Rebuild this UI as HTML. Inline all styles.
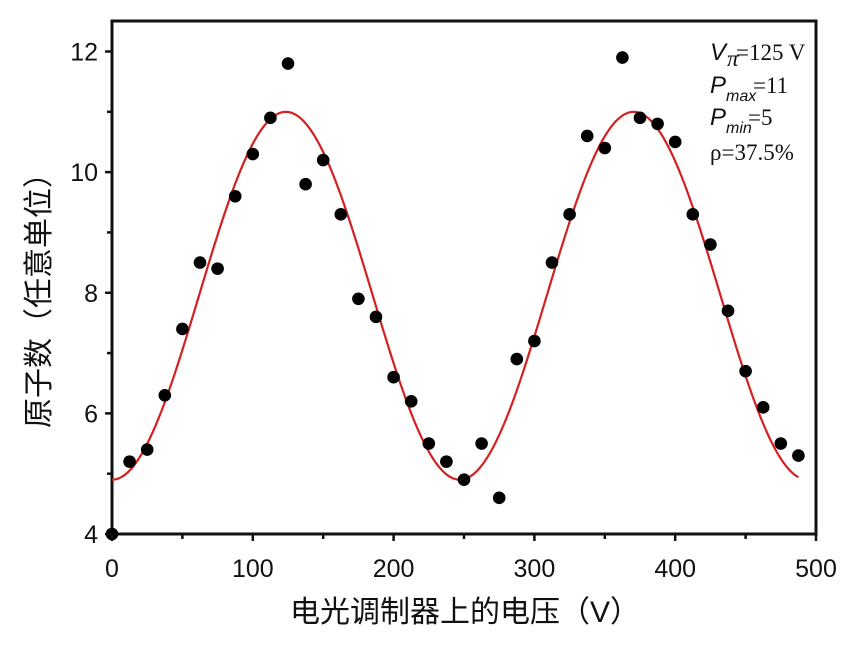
<!DOCTYPE html>
<html><head><meta charset="utf-8"><style>
html,body{margin:0;padding:0;background:#fff;}
svg{display:block;}
.tick{font-family:"Liberation Sans",sans-serif;font-size:25px;fill:#111;}
.cjk{font-family:"Liberation Sans","Noto Sans CJK SC",sans-serif;font-size:30px;fill:#111;}
.ann{font-family:"Liberation Serif",serif;font-size:23px;fill:#111;}
.anni{font-family:"Liberation Sans",sans-serif;font-style:italic;fill:#111;}
</style></head><body>
<svg id="chart" width="866" height="651" viewBox="0 0 866 651" xmlns="http://www.w3.org/2000/svg">
<rect x="112" y="21" width="704" height="513" fill="none" stroke="#111" stroke-width="3"/>
<g id="curve-layer"></g>
<g id="points-layer"></g>
<g id="axes-layer"></g>
<g>
<text x="710" y="60" class="anni" font-size="24">V</text><text x="727" y="66" class="ann" font-size="13" font-style="italic">π</text><text x="736" y="60" class="ann">=125 V</text>
<text x="710" y="93" class="anni" font-size="24">P</text><text x="726" y="101" class="anni" font-size="16">max</text><text x="753" y="93" class="ann">=11</text>
<text x="710" y="125" class="anni" font-size="24">P</text><text x="726" y="133" class="anni" font-size="16">min</text><text x="748" y="125" class="ann">=5</text>
<text x="710" y="160" class="ann">ρ=37.5%</text>
</g>
<text class="cjk" x="465" y="622" text-anchor="middle">电光调制器上的电压（V）</text>
<text class="cjk" transform="translate(49,293) rotate(-90)" text-anchor="middle">原子数（任意单位）</text>
</svg>
<script>
const xValues=[0,12.5,25,37.5,50,62.5,75,87.5,100,112.5,125,137.5,150,162.5,175,187.5,200,212.5,225,237.5,250,262.5,275,287.5,300,312.5,325,337.5,350,362.5,375,387.5,400,412.5,425,437.5,450,462.5,475,487.5];
const yValues=[4,5.2,5.4,6.3,7.4,8.5,8.4,9.6,10.3,10.9,11.8,9.8,10.2,9.3,7.9,7.6,6.6,6.2,5.5,5.2,4.9,5.5,4.6,6.9,7.2,8.5,9.3,10.6,10.4,11.9,10.9,10.8,10.5,9.3,8.8,7.7,6.7,6.1,5.5,5.3];
const fitOffset=[7.95];
const fitAmplitude=[3.05];
const fitPeriod=[247];
const fitRange=[0,487.5];
const xTicks=[0,100,200,300,400,500];
const yTicks=[4,6,8,10,12];
const NS="http://www.w3.org/2000/svg";
function sx(v){return 112+(v-0)*(816-112)/500;}
function sy(v){return 534-(v-4)*(534-51.5)/8;}
const curveLayer=document.getElementById('curve-layer');
let d='';
for(let i=0;i<=300;i++){const x=fitRange[0]+(fitRange[1]-fitRange[0])*i/300;const y=fitOffset[0]-fitAmplitude[0]*Math.cos(2*Math.PI*x/fitPeriod[0]);d+=(i?'L':'M')+sx(x).toFixed(2)+','+sy(y).toFixed(2);}
const path=document.createElementNS(NS,'path');


path.setAttribute('d',d);path.setAttribute('fill','none');path.setAttribute('stroke','#d42020');path.setAttribute('stroke-width','2.2');
curveLayer.appendChild(path);
const pl=document.getElementById('points-layer');
xValues.forEach((x,i)=>{const c=document.createElementNS(NS,'circle');


c.setAttribute('cx',sx(x));c.setAttribute('cy',sy(yValues[i]));c.setAttribute('r','6.3');c.setAttribute('fill','#000');pl.appendChild(c);});
const ax=document.getElementById('axes-layer');
function line(x1,y1,x2,y2,name){const l=document.createElementNS(NS,'line');


l.setAttribute('x1',x1);l.setAttribute('y1',y1);l.setAttribute('x2',x2);l.setAttribute('y2',y2);l.setAttribute('stroke','#111');l.setAttribute('stroke-width','2.5');ax.appendChild(l);}
function txt(x,y,s,anchor,name){const t=document.createElementNS(NS,'text');


t.setAttribute('x',x);t.setAttribute('y',y);t.setAttribute('class','tick');t.setAttribute('text-anchor',anchor);t.textContent=s;ax.appendChild(t);}
xTicks.forEach((v,i)=>{line(sx(v),534,sx(v),541,'x-tick');txt(sx(v),577,String(v),'middle','x-tick-label');
if(i<xTicks.length-1){const m=(v+xTicks[i+1])/2;line(sx(m),534,sx(m),539,'x-minor-tick');}});
yTicks.forEach((v,i)=>{line(112,sy(v),105,sy(v),'y-tick');txt(98,sy(v)+9,String(v),'end','y-tick-label');
if(i<yTicks.length-1){const m=(v+yTicks[i+1])/2;line(112,sy(m),107,sy(m),'y-minor-tick');}});
</script>
</body></html>
